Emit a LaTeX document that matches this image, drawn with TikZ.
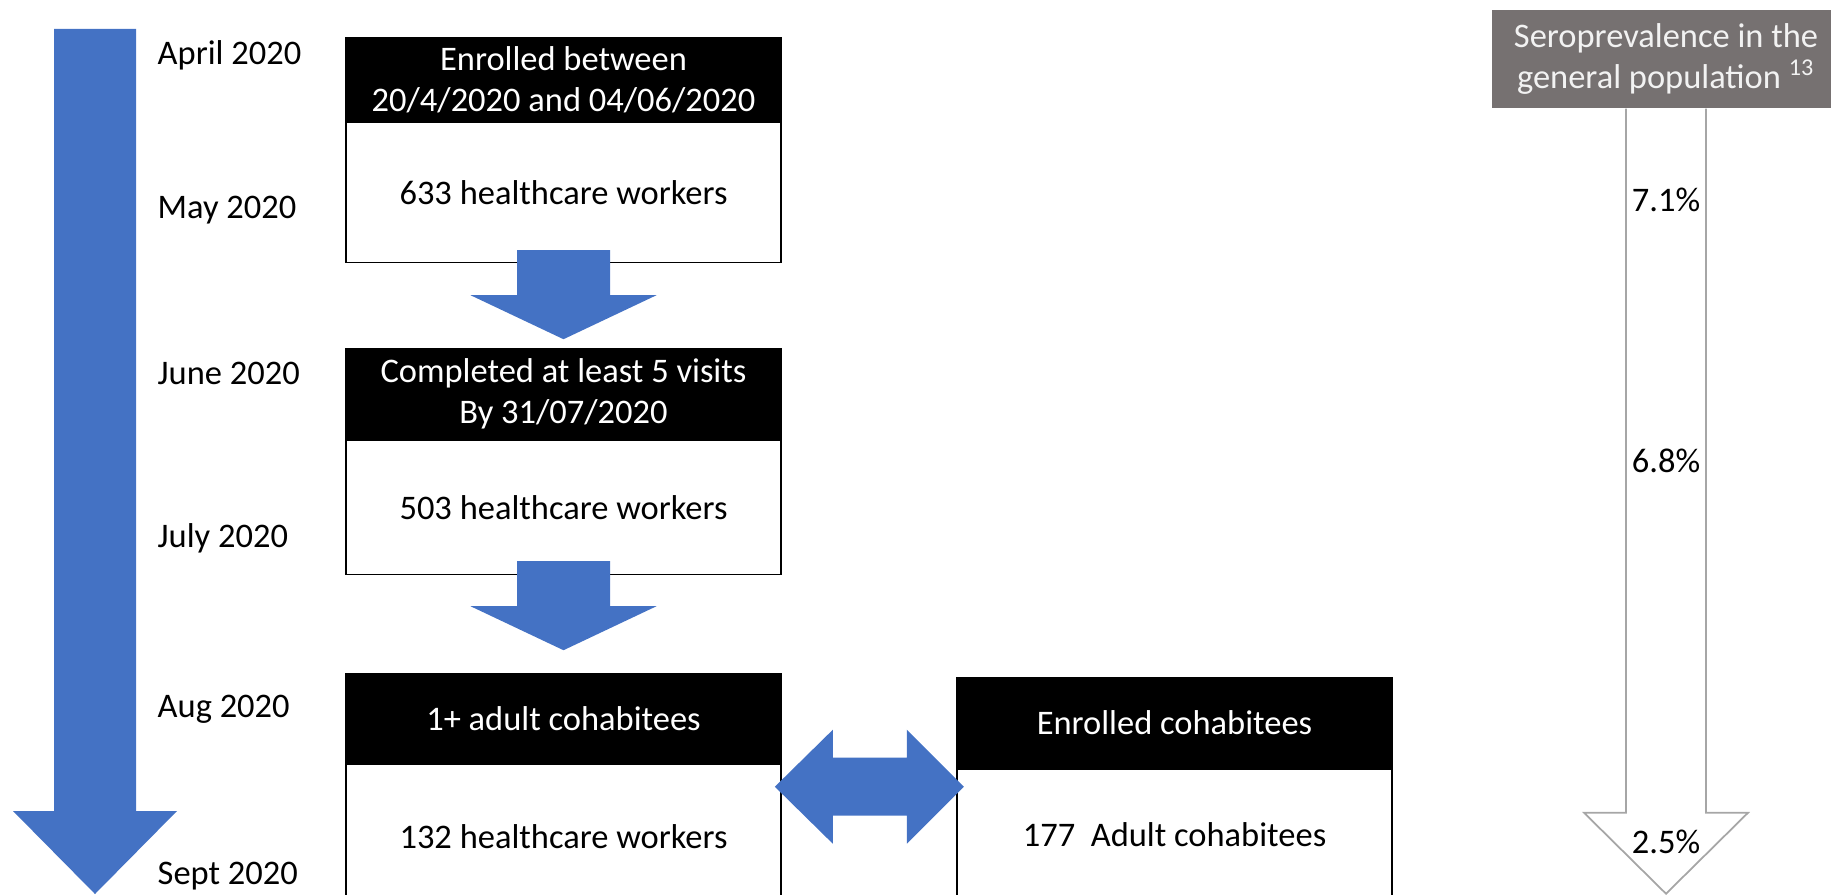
\documentclass[tikz,border=0pt]{standalone}
\usepackage{fontspec}
\setmainfont{Carlito}
\usetikzlibrary{calc,positioning}
\definecolor{arrblue}{HTML}{4472C4}
\definecolor{serogray}{HTML}{767171}
\definecolor{linegray}{HTML}{A6A6A6}

\begin{document}
\begin{tikzpicture}[x=0.01cm,y=-0.01cm]
      \useasboundingbox (0,0) rectangle (1831,894);
      \clip (0,0) rectangle (1831,894);
      \tikzstyle{every node} = [font=\fontsize{9.8}{11.6}\selectfont, inner sep=0pt]
      \tikzstyle{head} = [draw, fill=black, text=white, align=center, line width=0.4pt, minimum width=4.35cm]
      \tikzstyle{body} = [draw, fill=white, align=center, line width=0.4pt, minimum width=4.35cm]
      \tikzstyle{month} = [anchor=west]
      \tikzstyle{blockarr} = [fill=arrblue]

      % timeline
      \fill[blockarr] (54,29) -- (136,29) -- (136,811) -- (177,811) -- (95,894) -- (13,811) -- (54,811) -- cycle;
      \node[month] (apr) at (157,55) {April 2020};
      \node[month] (may) at (157,210) {May 2020};
      \node[month] (jun) at (157,373) {June 2020};
      \node[month] (jul) at (157,538) {July 2020};
      \node[month] (aug) at (157,709) {Aug 2020};
      \node[month] (sep) at (157,876) {Sept 2020};

      % boxes
      \node[head, minimum height=0.83cm] (hdrA) at (563.5,79.5) {Enrolled between\\20/4/2020 and 04/06/2020};
      \node[body, minimum height=1.4cm, below=0pt of hdrA] (bodyA) {633 healthcare workers};
      \node[head, minimum height=0.9cm] (hdrB) at (563.5,394) {Completed at least 5 visits\\By 31/07/2020};
      \node[body, minimum height=1.34cm, below=0pt of hdrB] (bodyB) {503 healthcare workers};
      \node[head, minimum height=0.89cm] (hdrC) at (563.5,718.5) {1+ adult cohabitees};
      \node[body, minimum height=1.44cm, below=0pt of hdrC] (bodyC) {132 healthcare workers};
      \node[head, minimum height=0.9cm] (hdrD) at (1174.5,723) {Enrolled cohabitees};
      \node[body, minimum height=1.3cm, below=0pt of hdrD] (bodyD) {177~ Adult cohabitees};

      % block arrows
      \fill[blockarr] ($(bodyA.south)+(-46.5,-13)$) -- ++(93,0) -- ++(0,45) -- ++(46.5,0) -- ++(-93,44) -- ++(-93,-44) -- ++(46.5,0) -- cycle;
      \fill[blockarr] ($(bodyB.south)+(-46.5,-14)$) -- ++(93,0) -- ++(0,45) -- ++(46.5,0) -- ++(-93,44) -- ++(-93,-44) -- ++(46.5,0) -- cycle;
      \fill[blockarr] ($(hdrC.south east)+(-7,23)$) -- ++(58,-57) -- ++(0,28) -- ++(74,0) -- ++(0,-28) -- ++(57,57) -- ++(-57,57) -- ++(0,-28) -- ++(-74,0) -- ++(0,28) -- cycle;

      % seroprevalence
      \node[fill=serogray, text=white!95!black, align=center, minimum width=3.48cm, minimum height=0.98cm] (sero) at (1666,59) {Seroprevalence in the\\general population \textsuperscript{13}};
      \draw[linegray, line width=0.5pt, fill=white] ($(sero.south)+(-40,0)$) -- ++(0,704) -- ++(-42,0) -- ++(82,81) -- ++(82,-81) -- ++(-42,0) -- ++(0,-704);
      \node (p1) at (1666,200) {7.1\%};
      \node (p2) at (1666,461) {6.8\%};
      \node (p3) at (1666,842) {2.5\%};
    \end{tikzpicture}
\end{document}
